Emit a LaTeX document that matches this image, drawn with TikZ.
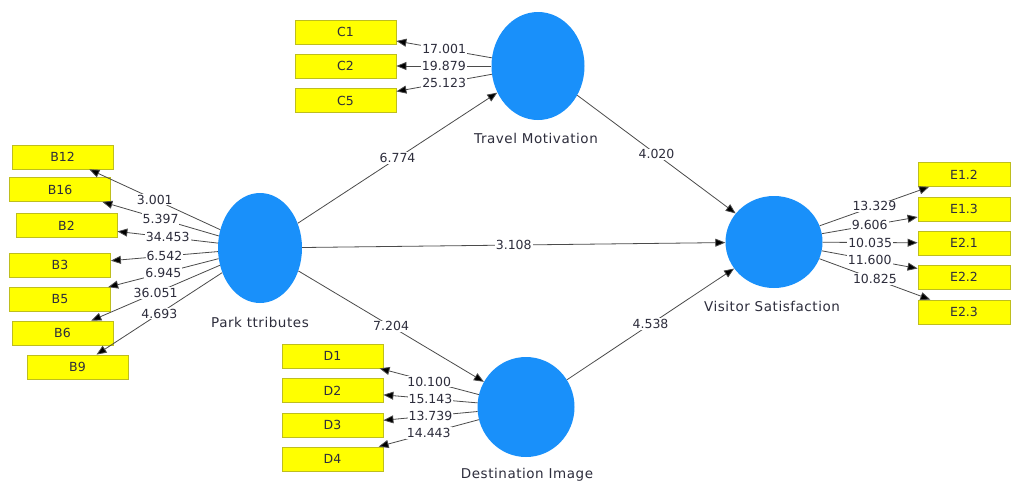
\documentclass[tikz,border=0pt]{standalone}
\usepackage{fontspec}
\setmainfont{DejaVu Sans}
\newfontfamily\lvfont{DejaVu Sans}[LetterSpace=4]
\usetikzlibrary{shapes.geometric,arrows.meta}
\definecolor{lvblue}{RGB}{25,144,250}
\definecolor{mvyellow}{RGB}{255,255,0}
\definecolor{mvborder}{RGB}{190,190,30}
\definecolor{txt}{RGB}{45,45,60}
\definecolor{ln}{RGB}{75,75,75}
\tikzset{
  lv/.style={ellipse, fill=lvblue, draw=none, inner sep=0pt},
  mv/.style={rectangle, fill=mvyellow, draw=mvborder, line width=0.8pt, minimum width=101pt, minimum height=24pt, inner sep=0pt, text=txt, font=\fontsize{12.5}{14}\selectfont},
  mve/.style={mv, minimum width=92pt},
  lvlabel/.style={text=txt, font=\lvfont\fontsize{13.5}{15}\selectfont, inner sep=0pt},
  conn/.style={draw=ln, line width=0.8pt, -{Triangle[length=10pt,width=8pt,fill=black]}},
  val/.style={fill=white, text=txt, inner sep=1pt, font=\fontsize{12.5}{14}\selectfont, pos=0.5}
}
\begin{document}
\begin{tikzpicture}[x=1pt,y=-1pt]
\useasboundingbox (0,0) rectangle (1011,482);
\fill[white] (0,0) rectangle (1011,482);
% latent variables
\node[lv, minimum width=84pt, minimum height=110pt] (PA) at (260,248) {};
\node[lv, minimum width=93pt, minimum height=108pt] (TM) at (538,66) {};
\node[lv, minimum width=97pt, minimum height=92pt] (VS) at (774,242) {};
\node[lv, minimum width=97pt, minimum height=100pt] (DI) at (526,407) {};
\node[lvlabel] (PAl) at (260,322) {Park ttributes};
\node[lvlabel] (TMl) at (536,138) {Travel Motivation};
\node[lvlabel] (VSl) at (772,306) {Visitor Satisfaction};
\node[lvlabel] (DIl) at (527,475) {Destination Image};
% indicators
\node[mv] (B12) at (62.5,157) {B12};
\node[mv] (B16) at (60,189.5) {B16};
\node[mv] (B2) at (66.5,225.5) {B2};
\node[mv] (B3) at (60,265) {B3};
\node[mv] (B5) at (60,299.5) {B5};
\node[mv] (B6) at (62.5,333) {B6};
\node[mv] (B9) at (77.5,367) {B9};
\node[mv] (C1) at (345.5,32) {C1};
\node[mv] (C2) at (345.5,66) {C2};
\node[mv] (C5) at (345.5,100.5) {C5};
\node[mv] (D1) at (332.5,356) {D1};
\node[mv] (D2) at (332.5,390.5) {D2};
\node[mv] (D3) at (332.5,425) {D3};
\node[mv] (D4) at (332.5,459) {D4};
\node[mve] (E12) at (964,174.5) {E1.2};
\node[mve] (E13) at (964,209) {E1.3};
\node[mve] (E21) at (964,243) {E2.1};
\node[mve] (E22) at (964,277) {E2.2};
\node[mve] (E23) at (964,312) {E2.3};
% structural paths
\draw[conn] (PA) -- node[val] {6.774} (TM);
\draw[conn] (PA) -- node[val] {3.108} (VS);
\draw[conn] (PA) -- node[val] {7.204} (DI);
\draw[conn] (TM) -- node[val] {4.020} (VS);
\draw[conn] (DI) -- node[val] {4.538} (VS);
% loadings
\draw[conn] (PA) -- node[val] {3.001} (B12);
\draw[conn] (PA) -- node[val] {5.397} (B16);
\draw[conn] (PA) -- node[val] {34.453} (B2);
\draw[conn] (PA) -- node[val] {6.542} (B3);
\draw[conn] (PA) -- node[val] {6.945} (B5);
\draw[conn] (PA) -- node[val] {36.051} (B6);
\draw[conn] (PA) -- node[val] {4.693} (B9);
\draw[conn] (TM) -- node[val] {17.001} (C1);
\draw[conn] (TM) -- node[val] {19.879} (C2);
\draw[conn] (TM) -- node[val] {25.123} (C5);
\draw[conn] (DI) -- node[val] {10.100} (D1);
\draw[conn] (DI) -- node[val] {15.143} (D2);
\draw[conn] (DI) -- node[val] {13.739} (D3);
\draw[conn] (DI) -- node[val] {14.443} (D4);
\draw[conn] (VS) -- node[val] {13.329} (E12);
\draw[conn] (VS) -- node[val] {9.606} (E13);
\draw[conn] (VS) -- node[val] {10.035} (E21);
\draw[conn] (VS) -- node[val] {11.600} (E22);
\draw[conn] (VS) -- node[val] {10.825} (E23);
\end{tikzpicture}
\end{document}
